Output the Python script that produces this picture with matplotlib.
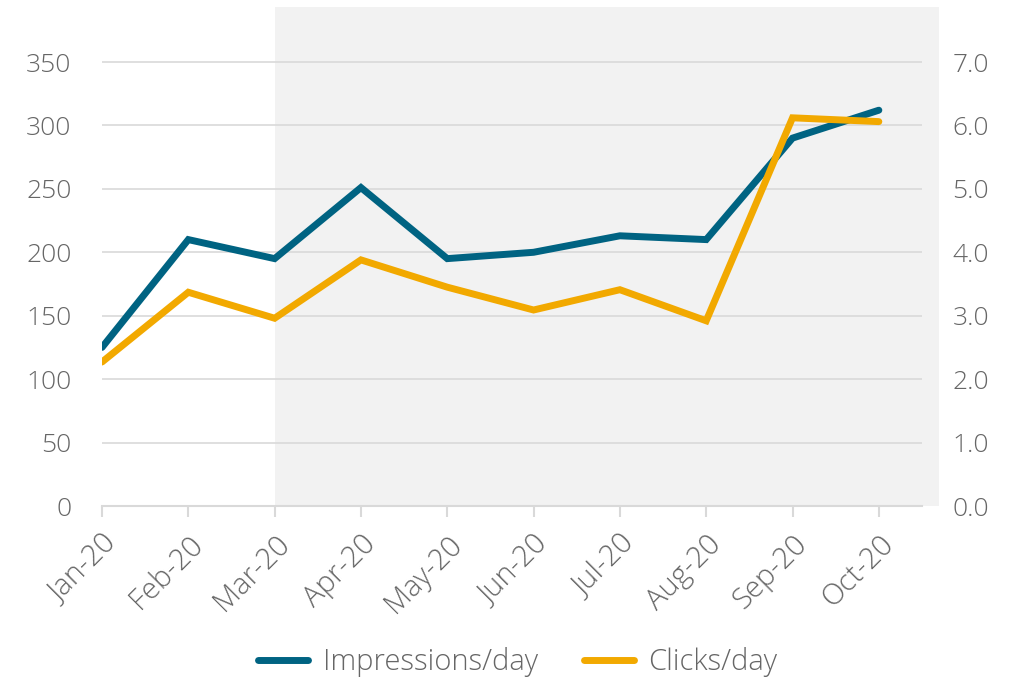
import matplotlib.pyplot as plt
from matplotlib.patches import Rectangle
from matplotlib.lines import Line2D

# Data
months = ['Jan-20', 'Feb-20', 'Mar-20', 'Apr-20', 'May-20',
          'Jun-20', 'Jul-20', 'Aug-20', 'Sep-20', 'Oct-20']
impressions = [125, 210, 195, 251, 195, 200, 213, 210, 290, 312]
clicks = [2.27, 3.37, 2.96, 3.88, 3.45, 3.09, 3.41, 2.92, 6.12, 6.06]

TEAL = '#006382'
GOLD = '#f2a900'
TXT = '#666666'
GRID = '#d9d9d9'

plt.rcParams['font.family'] = ['Open Sans', 'DejaVu Sans']
plt.rcParams['font.weight'] = 'light'

W, H = 1015, 682
fig = plt.figure(figsize=(W / 100, H / 100), dpi=100)
left, right, top, bottom = 102, 922, 7, 506
ax = fig.add_axes([left / W, 1 - bottom / H, (right - left) / W, (bottom - top) / H])
ax2 = ax.twinx()

x = list(range(len(months)))
ytop = 350 * (bottom - top) / (bottom - 62)
ax.set_xlim(0, 9.5)
ax.set_ylim(0, ytop)
ax2.set_ylim(0, 7 * (bottom - top) / (bottom - 62))

# shaded period (Mar onwards)
ax.add_patch(Rectangle((2, 0), 7.7, ytop, facecolor='#f2f2f2',
                       edgecolor='none', clip_on=False, zorder=0))

# gridlines
for v in range(50, 351, 50):
    ax.axhline(v, color=GRID, lw=1.2, zorder=1)

ax.plot(x, impressions, color=TEAL, lw=5, solid_capstyle='round',
        solid_joinstyle='miter', zorder=3)
ax2.plot(x, clicks, color=GOLD, lw=5, solid_capstyle='round',
         solid_joinstyle='miter', zorder=3)

for a in (ax, ax2):
    for s in a.spines.values():
        s.set_visible(False)
ax.spines['bottom'].set_visible(True)
ax.spines['bottom'].set_color(GRID)
ax.spines['bottom'].set_linewidth(1.5)

ax.set_yticks(range(0, 351, 50))
ax2.set_yticks([i * 1.0 for i in range(8)])
ax2.set_yticklabels([f'{i:.1f}' for i in range(8)])
ax.tick_params(axis='y', length=0, pad=22, labelsize=19, labelcolor=TXT)
ax2.tick_params(axis='y', length=0, pad=22, labelsize=19, labelcolor=TXT)

ax.set_xticks(x)
ax.set_xticklabels(months, rotation=45, ha='right', rotation_mode='anchor')
ax.tick_params(axis='x', length=8, width=1.5, color=GRID, pad=9,
               labelsize=21, labelcolor=TXT)

ax.set_zorder(ax2.get_zorder() - 1)
ax2.patch.set_visible(False)
ax.patch.set_visible(False)

handles = [Line2D([], [], color=TEAL, lw=5, solid_capstyle='round'),
           Line2D([], [], color=GOLD, lw=5, solid_capstyle='round')]
fig.legend(handles, ['Impressions/day', 'Clicks/day'], loc='center',
           bbox_to_anchor=(518 / W, 1 - 662 / H), ncol=2, frameon=False,
           fontsize=21, labelcolor=TXT, handlelength=1.7, handletextpad=0.5,
           columnspacing=1.6)

fig.savefig('out.png', dpi=100)
